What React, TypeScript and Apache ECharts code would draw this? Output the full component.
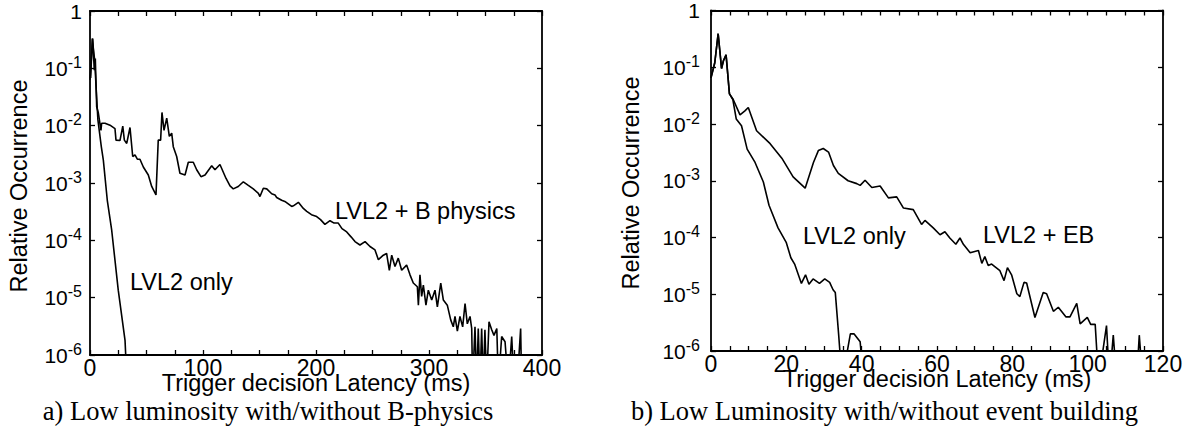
import { useEffect, useRef } from "react";
import * as echarts from "echarts";

const BELOW = 3e-7; // value below the 1e-6 axis floor (line drops out of the frame)

// Panel a) : latency (ms) vs relative occurrence
const leftBPhysics: [number, number][] = [
  [0, 0.063], [2.4, 0.33], [3.8, 0.093], [4.7, 0.148], [5.9, 0.0214], [7.4, 0.0166],
  [9.7, 0.0083], [10.3, 0.011], [13.3, 0.011], [17.7, 0.0102], [22.1, 0.0089], [23, 0.0056],
  [26.5, 0.0055], [29, 0.0098], [30.4, 0.0056], [32.5, 0.0049], [35.4, 0.0093], [37.8, 0.0029],
  [39.8, 0.0031], [41.9, 0.0026], [44.2, 0.0026], [47.2, 0.0019], [51.6, 0.00138], [54.6, 0.00087],
  [58.4, 0.00062], [60.4, 0.0056], [62.5, 0.0056], [63.7, 0.017], [65.5, 0.0083], [67.9, 0.0135],
  [70.2, 0.0065], [72.3, 0.0074], [73.7, 0.0043], [76.7, 0.0029], [79.6, 0.00148], [84.1, 0.00138],
  [87, 0.0023], [91.4, 0.0023], [94.4, 0.0017], [98.2, 0.00129], [101.8, 0.00138], [107.7, 0.002],
  [110.6, 0.0017], [115, 0.0021], [120.4, 0.0012], [123.9, 0.00089], [126.8, 0.00079], [131.2, 0.00087],
  [135.7, 0.00105], [140.1, 0.00091], [144.5, 0.00079], [149, 0.00066], [150.4, 0.00058], [153.4, 0.00081],
  [156.4, 0.00079], [160.8, 0.00065], [163.7, 0.00062], [165.2, 0.00056], [169.6, 0.0005], [173, 0.00047],
  [178.5, 0.00039], [180, 0.0004], [184.4, 0.00046], [188.8, 0.00036], [191.8, 0.00032], [196, 0.00028],
  [200.6, 0.00026], [204, 0.00023], [207.9, 0.00019], [212.4, 0.00022], [216, 0.0002], [219.7, 0.0002],
  [223, 0.00016], [227.2, 0.00014], [231, 1.15e-4], [234.5, 9.5e-5], [238.9, 8.3e-5], [243.4, 9.5e-5],
  [247.8, 7.8e-5], [252.2, 6.8e-5], [255.2, 4.6e-5], [259.6, 5.5e-5], [262.5, 5.9e-5], [264.9, 3.0e-5],
  [267, 5.5e-5], [269.9, 3.5e-5], [272.8, 4.9e-5], [275.8, 3.0e-5], [280.2, 3.7e-5], [283.2, 2.5e-5],
  [286.1, 1.8e-5], [289.7, 1.55e-5], [290.6, 7.4e-6], [292, 2.5e-5], [293.5, 1.05e-5], [295, 1.66e-5],
  [297.3, 7.4e-6], [299.4, 1.35e-5], [302.4, 9.1e-6], [305.3, 1.35e-5], [307.4, 6.9e-6], [310.4, 1.8e-5],
  [312.7, 9.1e-6], [316.2, 7.4e-6], [319.2, 4.1e-6], [321.5, 3.1e-6], [323, 4.7e-6], [325.1, 2.6e-6],
  [327.4, 4.7e-6], [329.8, 3.1e-6], [331.9, 7.9e-6], [333.9, 3.5e-6], [336.3, 4.7e-6], [337.8, 2.9e-6],
  [338.6, BELOW], [340.7, 3.1e-6], [342.2, BELOW], [343.6, 2.9e-6], [345.1, BELOW], [346.6, 2.9e-6],
  [348, BELOW], [349.5, 2.75e-6], [351, BELOW], [353.1, 3.8e-6], [355.5, 2.75e-6], [357.5, 2.2e-6],
  [360, 2.9e-6], [361.4, BELOW], [364.3, 2.1e-6], [367.3, 1.7e-6], [370.2, BELOW], [373.2, 2.1e-6],
  [375.2, BELOW], [378, BELOW], [381.1, 2.9e-6], [382, BELOW],
];

const leftLvl2Only: [number, number][] = [
  [0.6, 0.068], [2, 0.33], [4.1, 0.14], [6.5, 0.019], [7, 0.0126], [10, 0.0043], [11.8, 0.0025],
  [15.3, 0.0005], [19.2, 0.00015], [25, 1.35e-5], [31, 1.8e-6], [31.6, 1e-6], [33, BELOW],
];

// Panel b)
const rightEventBuilding: [number, number][] = [
  [0, 0.065], [1, 0.12], [1.9, 0.39], [2.8, 0.095], [3.3, 0.13], [4, 0.166], [4.9, 0.034],
  [5.9, 0.027], [7.7, 0.0145], [9, 0.017], [9.9, 0.0195], [12.1, 0.0076], [15.7, 0.0045],
  [18.8, 0.0025], [21.8, 0.00117], [25, 0.00074], [27.2, 0.0021], [28.5, 0.0034], [29.8, 0.0037],
  [31.2, 0.0032], [32.5, 0.00186], [33.8, 0.00135], [36.4, 0.001], [38.7, 0.00089], [39.6, 0.00083],
  [40.9, 0.00102], [42.7, 0.00076], [44.9, 0.00081], [47.1, 0.0005], [49.3, 0.00052], [51.1, 0.00033],
  [53.7, 0.00031], [55.9, 0.00017], [56.8, 0.0002], [59, 0.000148], [60.8, 0.000112], [62.1, 0.000126],
  [63.4, 9.8e-5], [65, 7.6e-5], [66.1, 9.8e-5], [67, 7.6e-5], [68.8, 5.4e-5], [71, 5.9e-5],
  [71.9, 3.5e-5], [72.7, 4.6e-5], [73.6, 3.2e-5], [74.5, 3.4e-5], [76.7, 2.6e-5], [77.8, 1.74e-5],
  [78.7, 2.95e-5], [79.8, 2.2e-5], [81.2, 1.02e-5], [82, 9.1e-6], [83.1, 1.62e-5], [83.8, 1.58e-5],
  [86, 3.9e-6], [88.2, 1.07e-5], [89.1, 1.02e-5], [90.9, 5e-6], [92.2, 5.9e-6], [94.2, 4e-6],
  [95.3, 4e-6], [97.1, 6.9e-6], [98, 3e-6], [99.9, 3.9e-6], [100.8, 2.95e-6], [102, 2.95e-6],
  [102.9, BELOW], [105, 2.8e-6], [105.8, BELOW], [106.8, 1.9e-6], [107.7, BELOW], [113, BELOW],
  [113.7, 1.9e-6], [114.6, BELOW],
];

const rightLvl2Only: [number, number][] = [
  [0, 0.065], [1, 0.12], [1.9, 0.39], [2.8, 0.095], [3.3, 0.13], [4, 0.166], [4.9, 0.034],
  [5.8, 0.027], [6.7, 0.0123], [8.1, 0.0093], [9.6, 0.0036], [11.7, 0.0021], [13.9, 0.00095],
  [15.4, 0.00037], [17.8, 0.000148], [20, 8.1e-5], [21.2, 4.4e-5], [22.2, 3.4e-5], [24, 1.55e-5],
  [25.1, 2.2e-5], [26, 1.5e-5], [27.1, 1.86e-5], [28.8, 1.55e-5], [30.2, 1.86e-5], [31.5, 1.62e-5],
  [32.4, 1.2e-5], [33, 1.07e-5], [33.9, 1.9e-6], [34.8, BELOW], [37, 2e-6], [38, 2e-6],
  [39.6, 1.45e-6], [40.5, BELOW],
];

// Tick labels
const leftXLabels = [0, 100, 200, 300, 400];
const rightXLabels = [0, 20, 40, 60, 80, 100, 120];
const yMin = 1e-6;
const yMax = 1;

const SANS = "'Liberation Sans', Arial, Helvetica, sans-serif";
const SERIF = "'Liberation Serif', 'Times New Roman', serif";
const BLACK = "#000";

const yFormatter = (v: number) => {
  const e = Math.round(Math.log10(v));
  if (e === 0) return "{b|1}";
  return `{b|10}{s|${e}}`;
};

function makeXAxes(grid: number, max: number, step: number, labels: number[]) {
  const base = {
    type: "value" as const,
    gridIndex: grid,
    min: 0,
    max,
    interval: step,
    axisLine: { show: true, onZero: false, lineStyle: { color: BLACK, width: 1.8 } },
    axisTick: { show: true, inside: true, length: 5, lineStyle: { color: BLACK, width: 1.3 } },
    splitLine: { show: false },
  };
  return [
    {
      ...base,
      position: "bottom" as const,
      axisLabel: {
        show: true,
        margin: 1,
        color: BLACK,
        fontFamily: SANS,
        fontSize: 23,
        formatter: (v: number) => (labels.includes(Math.round(v)) ? String(Math.round(v)) : ""),
      },
    },
    { ...base, position: "top" as const, axisLabel: { show: false } },
  ];
}

function makeYAxes(grid: number, margin: number) {
  const base = {
    type: "log" as const,
    logBase: 10,
    gridIndex: grid,
    min: yMin,
    max: yMax,
    interval: 1,
    axisLine: { show: true, onZero: false, lineStyle: { color: BLACK, width: 1.8 } },
    axisTick: { show: true, inside: true, length: 5, lineStyle: { color: BLACK, width: 1.3 } },
    splitLine: { show: false },
    minorTick: { show: false },
  };
  return [
    {
      ...base,
      position: "left" as const,
      axisLabel: {
        show: true,
        margin,
        formatter: yFormatter,
        rich: {
          b: { fontFamily: SANS, fontSize: 21, color: BLACK, lineHeight: 28 },
          s: { fontFamily: SANS, fontSize: 16, color: BLACK, lineHeight: 28, verticalAlign: "top", padding: [0, 0, 0, 0] },
        },
      },
    },
    { ...base, position: "right" as const, axisLabel: { show: false } },
  ];
}

function lineSeries(data: [number, number][], idx: number) {
  return {
    type: "line" as const,
    xAxisIndex: idx * 2,
    yAxisIndex: idx * 2,
    data,
    showSymbol: false,
    symbol: "none",
    clip: true,
    silent: true,
    lineStyle: { color: BLACK, width: 1.6 },
  };
}

function txt(text: string, x: number, y: number, size: number, opts: any = {}) {
  return {
    type: "text",
    x,
    y,
    rotation: opts.rotation || 0,
    silent: true,
    style: {
      text,
      fill: BLACK,
      font: `${size}px ${opts.serif ? SERIF : SANS}`,
      align: opts.align || "center",
      verticalAlign: "middle",
    },
  };
}

export default function App() {
  const ref = useRef<HTMLDivElement>(null);
  useEffect(() => {
    document.body.style.margin = "0";
    const chart = echarts.init(ref.current!, null, { renderer: "svg" });
    const option: any = {
      animation: false,
      backgroundColor: "#fff",
      grid: [
        { left: 90, top: 11, width: 452, height: 344, containLabel: false },
        { left: 711, top: 7, width: 452, height: 344, containLabel: false },
      ],
      xAxis: [...makeXAxes(0, 400, 25, leftXLabels), ...makeXAxes(1, 120, 5, rightXLabels)],
      yAxis: [...makeYAxes(0, 8), ...makeYAxes(1, 11)],
      series: [
        lineSeries(leftBPhysics, 0),
        lineSeries(leftLvl2Only, 0),
        lineSeries(rightEventBuilding, 1),
        lineSeries(rightLvl2Only, 1),
      ],
      graphic: [
        txt("Relative Occurrence", 19, 186, 23.5, { rotation: Math.PI / 2 }),
        txt("Relative Occurrence", 631, 183, 23.5, { rotation: Math.PI / 2 }),
        txt("Trigger decision Latency (ms)", 316, 383, 23.5),
        txt("Trigger decision Latency (ms)", 937, 378.5, 23.5),
        txt("a) Low luminosity with/without B-physics", 268, 411, 26.5, { serif: true }),
        txt("b) Low Luminosity with/without event building", 884.5, 411, 26.5, { serif: true }),
        txt("LVL2 + B physics", 335, 211, 23.5, { align: "left" }),
        txt("LVL2 only", 130, 282, 23.5, { align: "left" }),
        txt("LVL2 only", 803, 236, 23.5, { align: "left" }),
        txt("LVL2 + EB", 983, 235, 23.5, { align: "left" }),
      ],
    };
    chart.setOption(option);
    return () => chart.dispose();
  }, []);
  return <div ref={ref} style={{ width: 1189, height: 429 }} />;
}
